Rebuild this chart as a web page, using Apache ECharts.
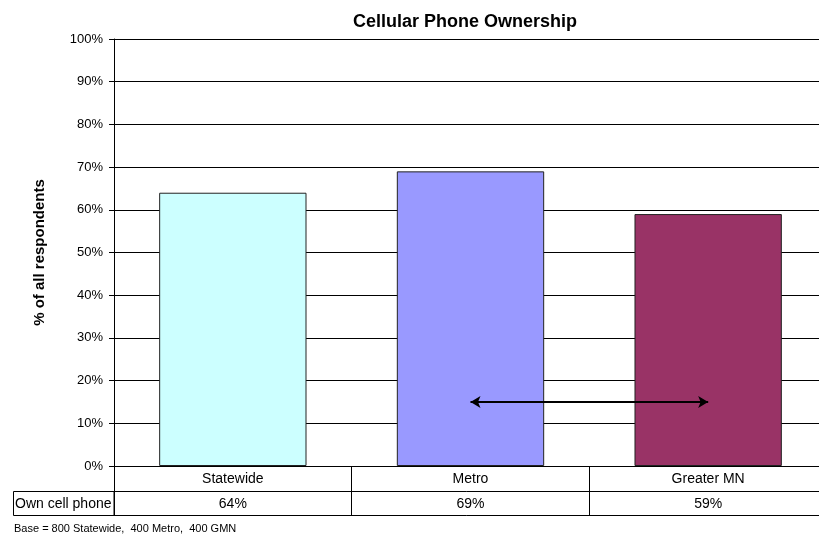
<!DOCTYPE html>
<html><head><meta charset="utf-8">
<script src="https://cdn.jsdelivr.net/npm/echarts@6/dist/echarts.min.js"></script>
<style>html,body{margin:0;padding:0;background:#fff}#c{width:819px;height:539px}</style>
</head><body><div id="c"></div>
<script>
var categories = ['Statewide', 'Metro', 'Greater MN'];
var values = [64, 69, 59];
var barColors = ['#CCFFFF', '#9999FF', '#993366'];
var yTicks = [0, 10, 20, 30, 40, 50, 60, 70, 80, 90, 100];
var arrowLevel = 15;
var rowLabel = 'Own cell phone';
var titleText = 'Cellular Phone Ownership';
var yName = '% of all respondents';
var noteText = 'Base = 800 Statewide,  400 Metro,  400 GMN';

var FONT = "'Liberation Sans', Arial, sans-serif";
var chart = echarts.init(document.getElementById('c'), null, {renderer: 'canvas'});
var option = {
  animation: false,
  backgroundColor: '#fff',
  textStyle: {fontFamily: FONT, color: '#000'},
  title: {
    text: titleText, left: 460, top: 8, textAlign: 'center',
    textStyle: {fontFamily: FONT, fontSize: 18, fontWeight: 'bold', color: '#000'}
  },
  grid: {left: 114, right: -8, top: 39, bottom: 73, containLabel: false, outerBoundsMode: 'none'},
  xAxis: [
    {
      type: 'category', data: categories, position: 'bottom',
      axisLine: {show: true, lineStyle: {color: '#000', width: 1}},
      axisTick: {show: true, length: 49, lineStyle: {color: '#000'}},
      axisLabel: {margin: 6, fontSize: 14, color: '#000', fontFamily: FONT},
      splitLine: {show: false}
    },
    {
      type: 'category', data: values.map(function(v){return v + '%';}), position: 'bottom', offset: 25,
      axisLine: {show: true, lineStyle: {color: '#000', width: 1}},
      axisTick: {show: false},
      axisLabel: {margin: 6, fontSize: 14, color: '#000', fontFamily: FONT}
    },
    {
      type: 'category', data: categories, position: 'bottom', offset: 49,
      axisLine: {show: true, lineStyle: {color: '#000', width: 1}},
      axisTick: {show: false},
      axisLabel: {show: false}
    }
  ],
  yAxis: {
    type: 'value', min: 0, max: 100, interval: 10,
    name: yName, nameLocation: 'middle', nameRotate: 90, nameGap: 67,
    nameTextStyle: {fontFamily: FONT, fontSize: 15, fontWeight: 'bold', color: '#000'},
    axisLine: {show: true, lineStyle: {color: '#000', width: 1}},
    axisTick: {show: true, length: 5, lineStyle: {color: '#000'}},
    axisLabel: {formatter: '{value}%', fontSize: 13, color: '#000', margin: 11, fontFamily: FONT},
    splitLine: {show: true, lineStyle: {color: '#000', width: 1}}
  },
  series: [{
    type: 'bar',
    barWidth: '62%',
    data: values.map(function(v, i){
      return {value: v, itemStyle: {color: barColors[i], borderColor: '#222', borderWidth: 1}};
    }),
    markLine: {
      silent: true,
      symbol: ['arrow', 'arrow'],
      symbolSize: [9, 10],
      label: {show: false},
      lineStyle: {color: '#000', width: 2, type: 'solid'},
      data: [[{coord: [categories[1], arrowLevel]}, {coord: [categories[2], arrowLevel]}]]
    }
  }],
  graphic: [
    {type: 'rect', shape: {x: 13.5, y: 491.5, width: 100.5, height: 24}, style: {fill: 'none', stroke: '#000', lineWidth: 1}},
    {type: 'text', left: 15, top: 497, style: {text: rowLabel, font: '14px ' + FONT, fill: '#000'}},
    {type: 'text', left: 14, top: 523, style: {text: noteText, font: '11px ' + FONT, fill: '#000'}}
  ]
};
chart.setOption(option);
</script>
</body></html>
